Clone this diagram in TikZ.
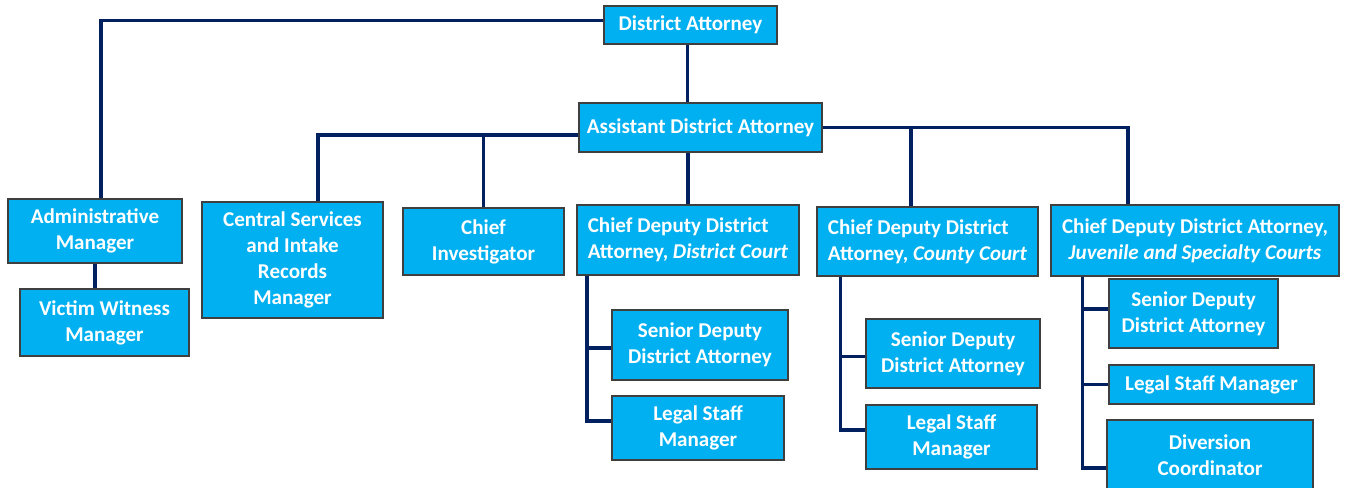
\documentclass[tikz,border=0pt]{standalone}
\usepackage{fontspec}
\setmainfont{Carlito}
\definecolor{boxfill}{HTML}{00B0F0}
\definecolor{navy}{HTML}{002060}
\definecolor{boxedge}{HTML}{3F3F3F}
\tikzset{
  orgbox/.style n args={2}{draw=boxedge, line width=0.8pt, fill=boxfill, text=white,
    font=\fontsize{15.8}{19.5}\selectfont\bfseries, align=center, inner sep=0pt,
    minimum width=#1*0.75pt, minimum height=#2*0.75pt},
  link/.style={draw=navy, line width=2.3pt}
}
\begin{document}
\begin{tikzpicture}[x=0.75pt,y=-0.75pt]
\useasboundingbox (0,0) rectangle (1348,487);
% nodes
\node[orgbox={173}{38}] (da) at (690.5,25) {District Attorney};
\node[orgbox={243}{49}] (ada) at (700.5,127.5) {Assistant District Attorney};
\node[orgbox={174}{64}] (adm) at (95,231) {Administrative\\Manager};
\node[orgbox={169}{67}] (vwm) at (104.5,322.5) {Victim Witness\\Manager};
\node[orgbox={181}{116}] (csr) at (292.5,260) {Central Services\\and Intake\\Records\\Manager};
\node[orgbox={161}{67}] (ci) at (483.5,241.5) {Chief\\Investigator};
\node[orgbox={222}{70}, align=left] (cddc) at (688,240) {Chief Deputy District\\Attorney, \textit{District Court}};
\node[orgbox={176}{70}] (sd1) at (700,345) {Senior Deputy\\District Attorney};
\node[orgbox={172}{64}] (ls1) at (698,428) {Legal Staff\\Manager};
\node[orgbox={221}{69}, align=left] (cdcc) at (927.5,241.5) {Chief Deputy District\\Attorney, \textit{County Court}};
\node[orgbox={174}{69}] (sd2) at (953,353.5) {Senior Deputy\\District Attorney};
\node[orgbox={171}{64}] (ls2) at (951.5,437) {Legal Staff\\Manager};
\node[orgbox={288}{71}] (cdjv) at (1195,240.5) {Chief Deputy District Attorney,\\\textit{Juvenile and Specialty Courts}};
\node[orgbox={169}{69}] (sd3) at (1193.5,313.5) {Senior Deputy\\District Attorney};
\node[orgbox={205}{39}] (ls3) at (1211.5,384.5) {Legal Staff Manager};
\node[orgbox={206}{70}] (dc) at (1210,455) {Diversion\\Coordinator};
% connectors
\draw[link] ([yshift=3.4pt]da.west) -| ([xshift=4.5pt]adm.north);
\draw[link] ([xshift=-2.6pt]da.south) -- ([xshift=-2.6pt]da.south |- ada.north);
\draw[link] ([yshift=-5.6pt]ada.west) -| ([xshift=19.1pt]csr.north);
\draw[link] (ci.north) |- ([yshift=-5.6pt]ada.west);
\draw[link] (cddc.north) -- (cddc.north |- ada.south);
\draw[link] (ada.east) -| ([xshift=-50.25pt]cdjv.north);
\draw[link] ([xshift=-12.4pt]cdcc.north) |- (ada.east);
\draw[link] (adm.south) -- (adm.south |- vwm.north);
\draw[link] ([xshift=7.9pt]cddc.south west) |- ([yshift=-2.25pt]sd1.west);
\draw[link] ([xshift=7.9pt]cddc.south west) |- ([yshift=5.25pt]ls1.west);
\draw[link] ([xshift=18pt]cdcc.south west) |- ([yshift=-1.9pt]sd2.west);
\draw[link] ([xshift=18pt]cdcc.south west) |- ([yshift=5.25pt]ls2.west);
\draw[link] ([xshift=24pt]cdjv.south west) |- ([yshift=3.4pt]sd3.west);
\draw[link] ([xshift=24pt]cdjv.south west) |- (ls3.west);
\draw[link] ([xshift=24pt]cdjv.south west) |- ([yshift=-9.75pt]dc.west);
\end{tikzpicture}
\end{document}
